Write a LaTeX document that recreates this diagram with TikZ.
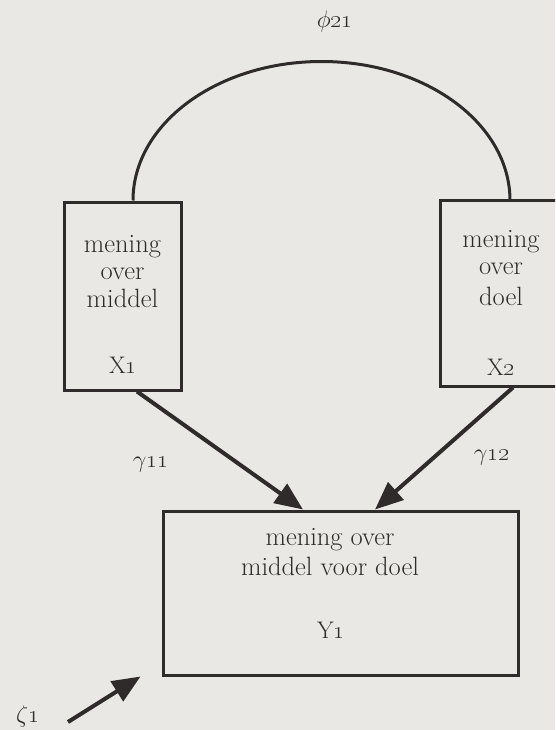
\RequirePackage{fix-cm}
\documentclass[tikz,border=0pt]{standalone}
\usetikzlibrary{arrows.meta}
\definecolor{paper}{RGB}{234,232,229}
\definecolor{ink}{RGB}{48,43,43}
\tikzset{
  box/.style={draw=ink, line width=3pt, inner sep=0pt},
  lbl/.style={anchor=base, inner sep=0pt, text=ink, font=\fontsize{24}{28}\selectfont},
  txt/.style={lbl, font=\fontsize{26.5}{30}\selectfont},
  arr/.style={draw=ink, line width=4pt, -{Triangle[length=28pt,width=23pt]}},
  corr/.style={draw=ink, line width=3pt}
}
\begin{document}
\begin{tikzpicture}[x=1pt,y=-1pt]
\useasboundingbox[fill=paper] (0,0) rectangle (555,730);
\clip (0,0) rectangle (555,730);
% boxes
\node[box, minimum width=117pt, minimum height=188pt] (L) at (122.5,296) {};
\node[box, minimum width=122pt, minimum height=186pt] (R) at (501,293) {};
\node[box, minimum width=355pt, minimum height=164pt] (B) at (340.5,593) {};
% texts
\node[txt] (L1) at (122.5,252) {mening};
\node[txt] (L2) at (122.5,279) {over};
\node[txt] (L3) at (122.5,307) {middel};
\node[lbl] (LX) at (123,373) {X\oldstylenums{1}};
\node[txt] (R1) at (501,247) {mening};
\node[txt] (R2) at (501,274) {over};
\node[txt] (R3) at (501,305) {doel};
\node[lbl] (RX) at (501,375) {X\oldstylenums{2}};
\node[txt] (B1) at (330,545) {mening over};
\node[txt] (B2) at (330,575) {middel voor doel};
\node[lbl] (BY) at (331,638) {Y\oldstylenums{1}};
% correlation arc
\draw[corr] ([xshift=10.5pt]L.north) arc[start angle=180, end angle=0, x radius=188.5pt, y radius=139pt];
\node[lbl] (phi) at (335,28) {$\phi$\oldstylenums{21}};
% paths
\draw[arr] ([xshift=14.5pt]L.south) -- ([xshift=-37.5pt]B.north);
\draw[arr] ([xshift=12pt]R.south) -- ([xshift=34.5pt]B.north);
\node[lbl] (g11) at (151,467) {$\gamma$\oldstylenums{11}};
\node[lbl] (g12) at (492,460) {$\gamma$\oldstylenums{12}};
% disturbance
\coordinate (zs) at (68,722);
\draw[arr] (zs) -- ([xshift=-21pt]B.south west);
\node[lbl, anchor=base west] (zeta) at (16,722) {$\zeta$\oldstylenums{1}};
\end{tikzpicture}
\end{document}
